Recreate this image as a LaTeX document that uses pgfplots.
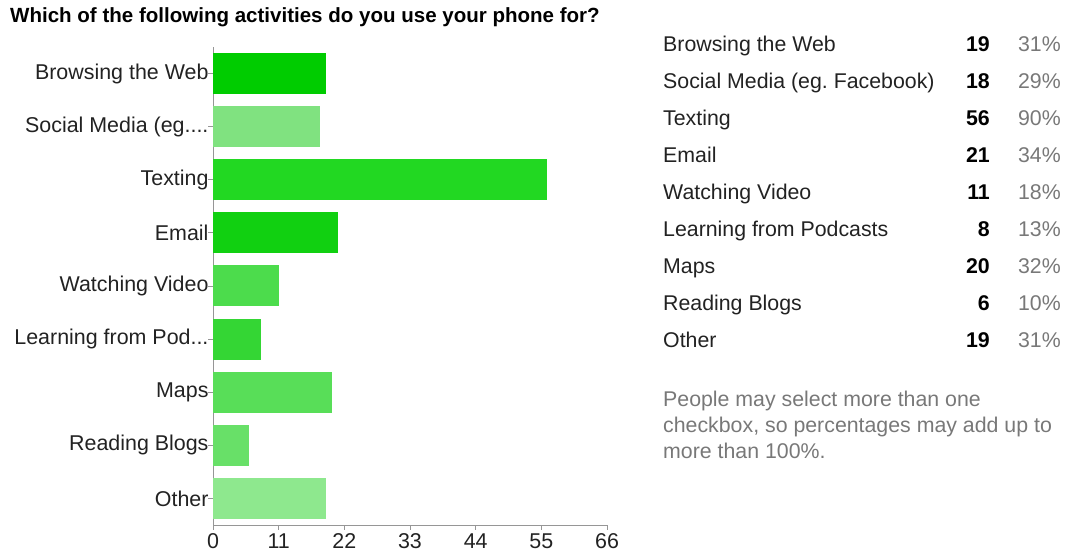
\documentclass[border=0pt]{standalone}
\usepackage{pgfplots}
\pgfplotsset{compat=1.18}
\usepackage{fontspec}
\setmainfont{Liberation Sans}
\definecolor{c1}{RGB}{0,204,0}
\definecolor{c2}{RGB}{128,226,128}
\definecolor{c3}{RGB}{34,216,34}
\definecolor{c4}{RGB}{17,208,17}
\definecolor{c5}{RGB}{76,220,76}
\definecolor{c6}{RGB}{52,214,52}
\definecolor{c7}{RGB}{88,222,88}
\definecolor{c8}{RGB}{104,224,104}
\definecolor{c9}{RGB}{142,232,142}
\definecolor{axgray}{RGB}{150,150,150}
\definecolor{txt}{RGB}{34,34,34}
\definecolor{pct}{RGB}{120,120,120}
\begin{document}
\begin{tikzpicture}[x=1bp,y=1bp]
\path[use as bounding box] (0,0) rectangle (1067,556);
\node[anchor=base west, inner sep=0pt, font=\fontsize{20.6}{24}\selectfont\bfseries] at (10,533) {Which of the following activities do you use your phone for?};
\begin{axis}[
  at={(213bp,31bp)}, anchor=south west, scale only axis,
  width=394bp, height=478bp,
  xmin=0, xmax=66, ymin=-0.5, ymax=8.5,
  xtick={0,11,22,33,44,55,66},
  ytick={0,1,2,3,4,5,6,7,8},
  yticklabels={Other, Reading Blogs, Maps, {Learning from Pod.{}.{}.}, Watching Video, Email, Texting, {Social Media (eg.{}.{}.{}.}, Browsing the Web},
  axis lines*=left,
  axis line style={draw=axgray, line width=0.8pt},
  tick style={draw=axgray, line width=0.8pt},
  tick align=outside, major tick length=5bp,
  ticklabel style={font=\fontsize{21.5}{25}\selectfont, text=txt},
  yticklabel style={xshift=4bp},
  /pgf/number format/assume math mode=true,
  xbar, bar width=41bp,
  clip=false,
]
\addplot[xbar, bar shift=0pt, fill=c1, draw=none] coordinates {(19,8)};
\addplot[xbar, bar shift=0pt, fill=c2, draw=none] coordinates {(18,7)};
\addplot[xbar, bar shift=0pt, fill=c3, draw=none] coordinates {(56,6)};
\addplot[xbar, bar shift=0pt, fill=c4, draw=none] coordinates {(21,5)};
\addplot[xbar, bar shift=0pt, fill=c5, draw=none] coordinates {(11,4)};
\addplot[xbar, bar shift=0pt, fill=c6, draw=none] coordinates {(8,3)};
\addplot[xbar, bar shift=0pt, fill=c7, draw=none] coordinates {(20,2)};
\addplot[xbar, bar shift=0pt, fill=c8, draw=none] coordinates {(6,1)};
\addplot[xbar, bar shift=0pt, fill=c9, draw=none] coordinates {(19,0)};
\end{axis}
\begin{scope}[every node/.style={inner sep=0pt, font=\fontsize{21.4}{25}\selectfont}]
\foreach \name/\n/\p [count=\i from 0] in {Browsing the Web/19/31,Social Media (eg.\ Facebook)/18/29,Texting/56/90,Email/21/34,Watching Video/11/18,Learning from Podcasts/8/13,Maps/20/32,Reading Blogs/6/10,Other/19/31}{
  \pgfmathsetmacro{\yy}{556-(45+37*\i+7)}
  \node[anchor=base west, text=txt] at (663,\yy) {\name};
  \node[anchor=base east, font=\fontsize{21.4}{25}\selectfont\bfseries] at (990,\yy) {\n};
  \node[anchor=base east, text=pct] at (1061,\yy) {\p\%};
}
\node[anchor=base west, text=pct] at (663,556-407) {People may select more than one};
\node[anchor=base west, text=pct] at (663,556-433) {checkbox, so percentages may add up to};
\node[anchor=base west, text=pct] at (663,556-459) {more than 100\%.};
\end{scope}
\end{tikzpicture}
\end{document}
